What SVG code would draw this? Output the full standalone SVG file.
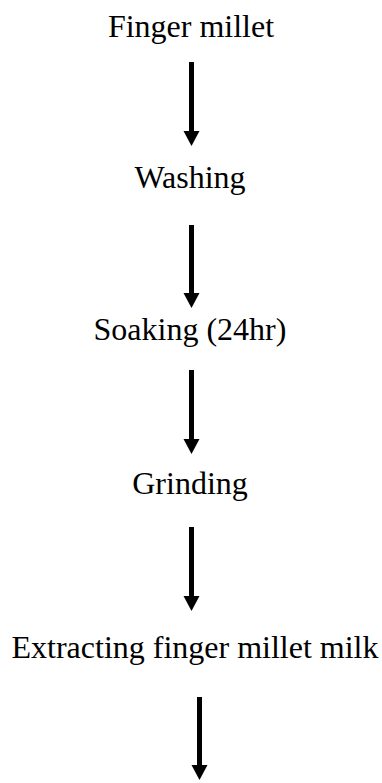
<svg xmlns="http://www.w3.org/2000/svg" width="382" height="783" viewBox="0 0 382 783">
  <defs>
    <marker id="head" markerUnits="userSpaceOnUse" markerWidth="16" markerHeight="16" refX="0" refY="8" orient="auto" overflow="visible">
      <path d="M0,0 L15,8 L0,16 Z" fill="#000"/>
    </marker>
  </defs>
  <rect width="382" height="783" fill="#fff"/>
  <g font-family="Liberation Serif, Times New Roman, DejaVu Serif, serif" font-size="32" fill="#000" text-anchor="middle">
    <g id="n1"><text x="191" y="37">Finger millet</text></g>
    <g id="n2"><text x="190" y="188">Washing</text></g>
    <g id="n3"><text x="190" y="340">Soaking (24hr)</text></g>
    <g id="n4"><text x="190" y="494">Grinding</text></g>
    <g id="n5"><text x="195" y="658">Extracting finger millet milk</text></g>
  </g>
  <g id="connectors" stroke="#000" stroke-width="5" fill="none" marker-end="url(#head)">
    <line x1="191.5" y1="62" x2="191.5" y2="131"/>
    <line x1="191.5" y1="225" x2="191.5" y2="293"/>
    <line x1="191.5" y1="370" x2="191.5" y2="439"/>
    <line x1="191.5" y1="527" x2="191.5" y2="596"/>
    <line x1="199.5" y1="697" x2="199.5" y2="765"/>
  </g>
</svg>
